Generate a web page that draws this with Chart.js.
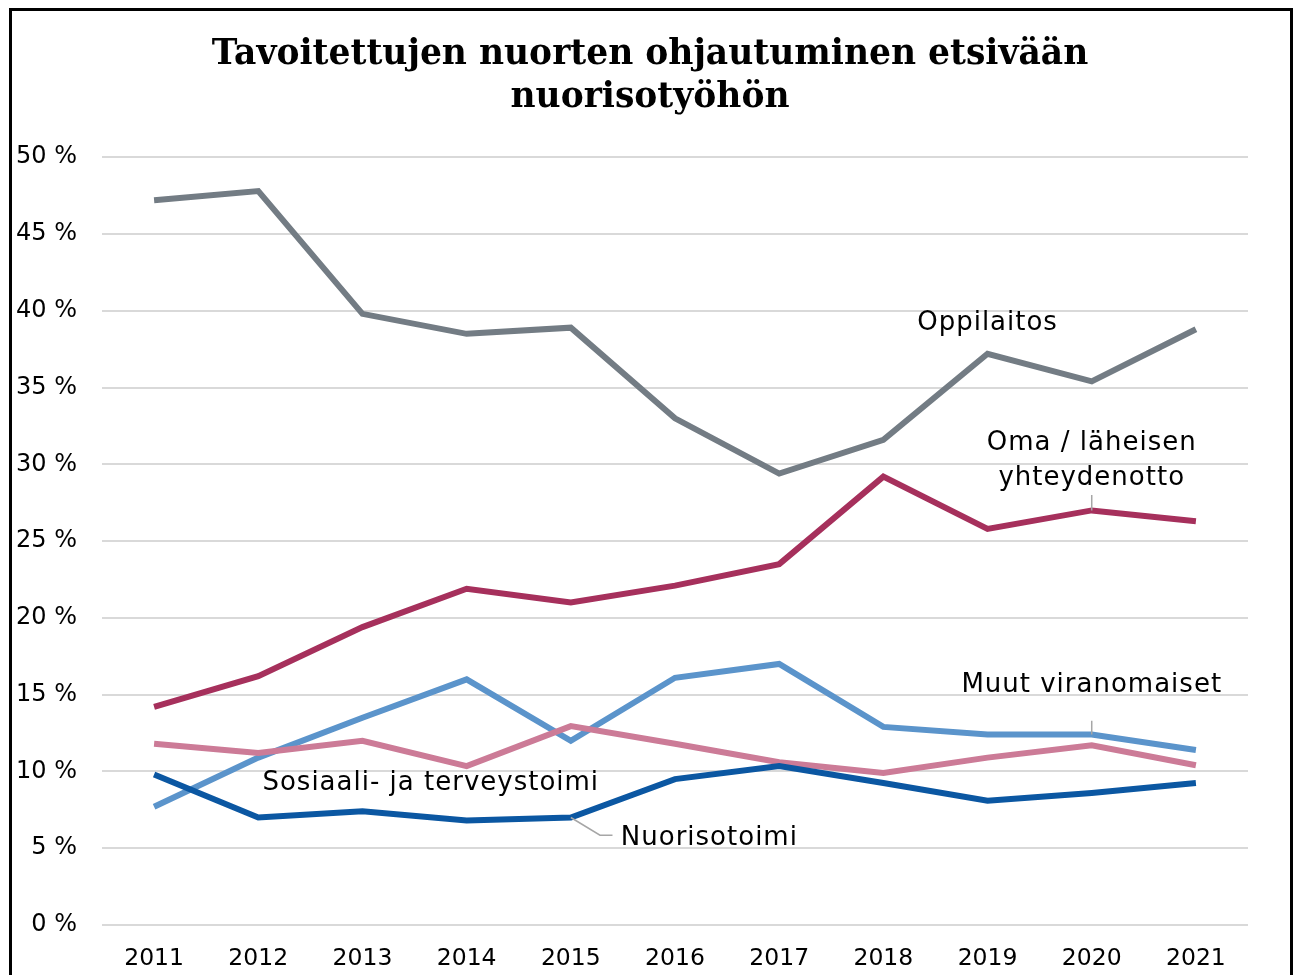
<!DOCTYPE html>
<html>
<head>
<meta charset="utf-8">
<script src="https://cdn.jsdelivr.net/npm/chart.js@4/dist/chart.umd.min.js"></script>
<style>
  html, body { margin: 0; padding: 0; background: #fff; }
  #wrap { width: 1300px; height: 975px; }
</style>
</head>
<body>
<div id="wrap"><canvas id="grafico"></canvas></div>
<script>
const vuodet = ['2011', '2012', '2013', '2014', '2015', '2016', '2017', '2018', '2019', '2020', '2021'];
const sarjat = ['Oppilaitos', 'Oma / läheisen yhteydenotto', 'Muut viranomaiset', 'Sosiaali- ja terveystoimi', 'Nuorisotoimi'];
const oppilaitos = [47.2, 47.8, 39.8, 38.5, 38.9, 33.0, 29.4, 31.6, 37.2, 35.4, 38.8];
const oma = [14.2, 16.2, 19.4, 21.9, 21.0, 22.1, 23.5, 29.2, 25.8, 27.0, 26.3];
const muut = [7.7, 10.9, 13.5, 16.0, 12.0, 16.1, 17.0, 12.9, 12.4, 12.4, 11.4];
const sosiaali = [11.8, 11.2, 12.0, 10.35, 12.95, 11.8, 10.6, 9.9, 10.9, 11.7, 10.4];
const nuorisotoimi = [9.8, 7.0, 7.4, 6.8, 7.0, 9.5, 10.35, 9.25, 8.1, 8.6, 9.25];
const yTicks = [0, 5, 10, 15, 20, 25, 30, 35, 40, 45, 50];

const varit = ['#737c84', '#a6305c', '#5b94cb', '#cc7b97', '#0b57a2'];
const arvot = [oppilaitos, oma, muut, sosiaali, nuorisotoimi];

const fontti = '"DejaVu Sans", Verdana, sans-serif';

// tekstit ja apuviivat viivojen viereen
const selitteet = {
  id: 'selitteet',
  afterDatasetsDraw(chart) {
    const c = chart.ctx;
    const x = chart.scales.x, y = chart.scales.y;
    c.save();
    // apuviivat
    c.strokeStyle = '#a6a6a6';
    c.lineWidth = 1.5;
    c.beginPath();
    c.moveTo(x.getPixelForValue(9), y.getPixelForValue(28.0));
    c.lineTo(x.getPixelForValue(9), y.getPixelForValue(oma[9]));
    c.moveTo(x.getPixelForValue(9), y.getPixelForValue(13.3));
    c.lineTo(x.getPixelForValue(9), y.getPixelForValue(muut[9]));
    c.moveTo(x.getPixelForValue(4), y.getPixelForValue(nuorisotoimi[4]));
    c.lineTo(x.getPixelForValue(4.28), y.getPixelForValue(5.85));
    c.lineTo(x.getPixelForValue(4.4), y.getPixelForValue(5.85));
    c.stroke();

    c.fillStyle = '#000';
    c.font = '26px ' + fontti;
    c.letterSpacing = '1px';
    c.textBaseline = 'middle';
    c.textAlign = 'center';
    c.fillText('Oppilaitos', x.getPixelForValue(8), y.getPixelForValue(39.2));
    c.fillText('Oma / läheisen', x.getPixelForValue(9), y.getPixelForValue(31.35));
    c.fillText('yhteydenotto', x.getPixelForValue(9), y.getPixelForValue(29.1));
    c.fillText('Muut viranomaiset', x.getPixelForValue(9), y.getPixelForValue(15.6));
    c.textAlign = 'left';
    c.fillText('Sosiaali- ja terveystoimi', x.getPixelForValue(1.04), y.getPixelForValue(9.25));
    c.fillText('Nuorisotoimi', x.getPixelForValue(4.48), y.getPixelForValue(5.62));
    c.restore();
  },
  afterDraw(chart) {
    const c = chart.ctx;
    c.save();
    c.strokeStyle = '#000';
    c.lineWidth = 3;
    c.strokeRect(10.5, 9.5, 1281, 1000);
    c.restore();
  }
};

const ctx = document.getElementById('grafico');
let grafico = new Chart(ctx, {
  type: 'line',
  data: {
    labels: vuodet,
    datasets: sarjat.map((nimi, i) => ({
      label: nimi,
      data: arvot[i],
      borderColor: varit[i],
      backgroundColor: varit[i],
      borderWidth: 6,
      pointRadius: 0,
      tension: 0,
      order: sarjat.length - i
    }))
  },
  options: {
    responsive: true,
    maintainAspectRatio: false,
    animation: false,
    layout: { padding: { left: 0, right: 0, top: 10, bottom: 0 } },
    plugins: {
      legend: { display: false },
      tooltip: { enabled: false },
      title: {
        display: true,
        text: ['Tavoitettujen nuorten ohjautuminen etsivään', 'nuorisotyöhön'],
        color: '#000',
        font: { family: '"DejaVu Serif", Georgia, serif', size: 34.5, weight: 'bold', lineHeight: 1.25 },
        padding: { top: 23, bottom: 38 }
      }
    },
    scales: {
      x: {
        offset: true,
        grid: { display: false, drawTicks: false },
        border: { display: false },
        ticks: { color: '#000', font: { family: fontti, size: 23.5 }, padding: 20, maxRotation: 0 },
        afterFit(s) { s.height = 50; }
      },
      y: {
        min: 0,
        max: 50,
        afterBuildTicks(s) { s.ticks = yTicks.map(v => ({ value: v })); },
        grid: { color: '#d9d9d9', lineWidth: 2, drawTicks: false },
        border: { display: false },
        ticks: {
          color: '#000',
          font: { family: fontti, size: 24 },
          padding: 25,
          callback: v => v + ' %'
        },
        afterFit(s) { s.width = 102; }
      },
      // tyhjä akseli oikealle, jotta kuvaaja jää oikeasta reunasta irti
      oikea: {
        type: 'linear',
        position: 'right',
        min: 0,
        max: 50,
        grid: { display: false, drawTicks: false },
        border: { display: false },
        ticks: { display: false },
        afterFit(s) { s.width = 52; }
      }
    }
  },
  plugins: [selitteet]
});
</script>
</body>
</html>
